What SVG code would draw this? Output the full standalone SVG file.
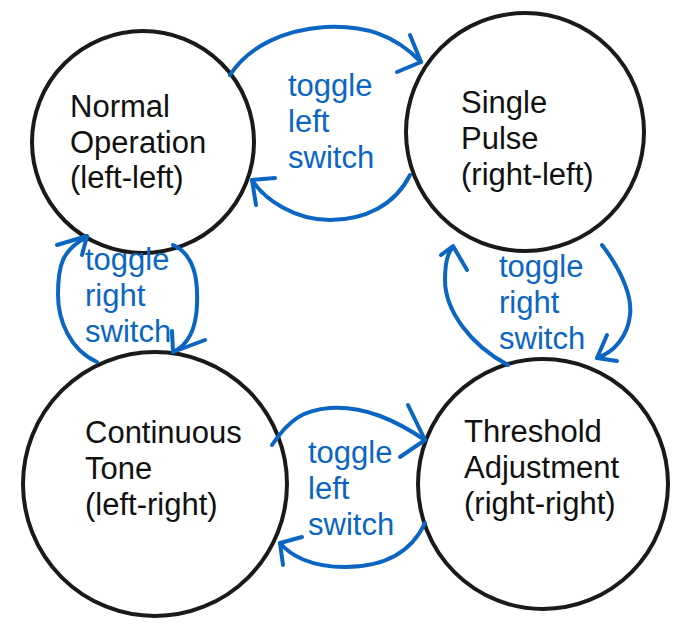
<svg xmlns="http://www.w3.org/2000/svg" width="695" height="633" viewBox="0 0 695 633">
<style>
.node{fill:#fff;stroke:#1a1a1a;stroke-width:4}
.lbl{font-family:"Liberation Sans",Arial,sans-serif;font-size:31px;fill:#111}
.edge{fill:none;stroke:#0B65C2;stroke-width:4;stroke-linecap:round;stroke-linejoin:round}
.elbl{font-family:"Liberation Sans",Arial,sans-serif;font-size:31px;fill:#0B65C2}
</style>
<rect width="695" height="633" fill="#fff"/>
<g id="normal">
<circle class="node" cx="143" cy="142" r="111"/>
<text class="lbl"><tspan x="70" y="117">Normal</tspan><tspan x="70" y="153">Operation</tspan><tspan x="70" y="188">(left-left)</tspan></text>
</g>
<g id="single">
<circle class="node" cx="525" cy="132" r="119"/>
<text class="lbl"><tspan x="461" y="113">Single</tspan><tspan x="461" y="149">Pulse</tspan><tspan x="461" y="185">(right-left)</tspan></text>
</g>
<g id="continuous">
<circle class="node" cx="155" cy="484" r="132"/>
<text class="lbl"><tspan x="85" y="443">Continuous</tspan><tspan x="85" y="479">Tone</tspan><tspan x="85" y="515">(left-right)</tspan></text>
</g>
<g id="threshold">
<circle class="node" cx="543" cy="484" r="125"/>
<text class="lbl"><tspan x="464" y="442">Threshold</tspan><tspan x="464" y="478">Adjustment</tspan><tspan x="464" y="514">(right-right)</tspan></text>
</g>
<g id="connectors">
<path class="edge" d="M230,75 C250,45 285,30 325,27 C365,25 395,35 421,62"/>
<path class="edge" d="M410,35 L421,62 L397,72"/>
<path class="edge" d="M410,175 C395,205 365,220 330,220 C295,220 265,200 252,180"/>
<path class="edge" d="M275,178 L252,180 L256,205"/>
<path class="edge" d="M97,362 C70,350 58,320 58,295 C58,265 62,250 87,237"/>
<path class="edge" d="M57,245 L87,236 L82,255"/>
<path class="edge" d="M173,245 C195,255 198,280 197,305 C196,330 188,345 173,352"/>
<path class="edge" d="M172,331 L173,352 L205,340"/>
<path class="edge" d="M508,365 C470,345 445,310 445,280 C445,262 448,252 453,247"/>
<path class="edge" d="M441,255 L453,246 L467,270"/>
<path class="edge" d="M602,245 C625,275 632,300 630,315 C628,335 615,352 597,358"/>
<path class="edge" d="M607,335 L597,358 L617,361"/>
<path class="edge" d="M272,445 C290,418 305,410 330,408 C365,406 395,420 425,440"/>
<path class="edge" d="M408,405 L425,440 L400,457"/>
<path class="edge" d="M425,523 C410,555 380,567 345,567 C310,567 290,555 280,543"/>
<path class="edge" d="M302,537 L280,543 L283,565"/>
<text class="elbl"><tspan x="288" y="96">toggle</tspan><tspan x="288" y="132">left</tspan><tspan x="288" y="168">switch</tspan></text>
<text class="elbl"><tspan x="85" y="270">toggle</tspan><tspan x="85" y="306">right</tspan><tspan x="85" y="342">switch</tspan></text>
<text class="elbl"><tspan x="499" y="277">toggle</tspan><tspan x="499" y="313">right</tspan><tspan x="499" y="349">switch</tspan></text>
<text class="elbl"><tspan x="308" y="463">toggle</tspan><tspan x="308" y="499">left</tspan><tspan x="308" y="535">switch</tspan></text>
</g>
</svg>
